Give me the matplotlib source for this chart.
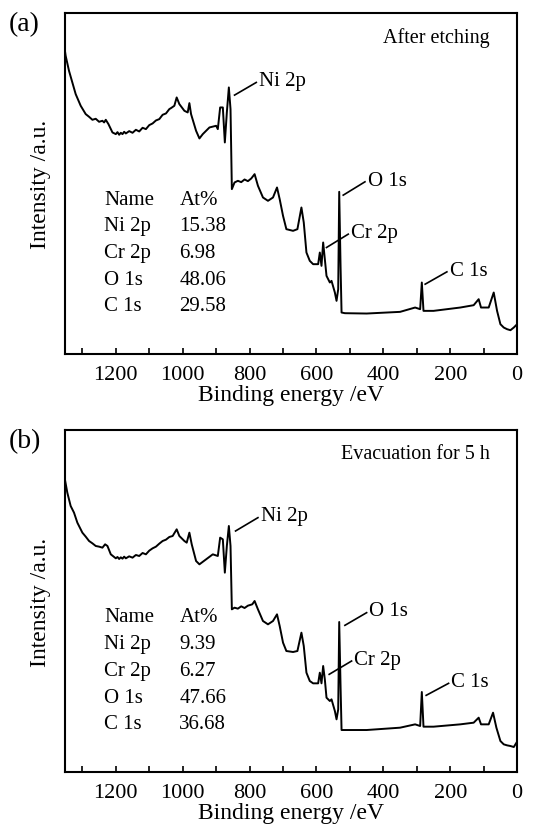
import matplotlib.pyplot as plt
import numpy as np
from matplotlib.ticker import MultipleLocator

plt.rcParams['font.family'] = ['Liberation Serif', 'DejaVu Serif']

# XPS survey spectra: binding energy (eV) vs intensity (a.u.)
be_a = [1355, 1350, 1340, 1330, 1320, 1305, 1290, 1280, 1270, 1260,
        1250, 1240, 1235, 1230, 1222, 1210, 1200, 1195, 1190, 1185,
        1180, 1175, 1170, 1160, 1150, 1140, 1130, 1120, 1110, 1100,
        1090, 1080, 1070, 1060, 1050, 1040, 1035, 1025,
        1018, 1010, 995, 985, 980, 975, 960, 950, 940, 920,
        900, 895, 888, 880, 874, 868, 862, 857, 853, 845,
        835, 825, 815, 805, 795, 785, 775, 760, 745, 730, 718, 710, 700,
        690, 670, 657, 645, 638, 630, 620, 610, 595, 590,
        585, 580, 575, 570, 560, 555, 545, 540, 535, 532,
        528, 525, 515, 450, 350, 305, 290, 285, 280, 250,
        170, 130, 115, 108, 85, 70, 60, 50, 40, 30,
        20, 10, 0]
int_a = [930, 895, 850, 815, 780, 745, 720, 712, 703, 706,
         697, 700, 695, 703, 690, 665, 660, 666, 658, 664,
         660, 667, 662, 669, 664, 673, 668, 679, 675, 687,
         692, 701, 705, 718, 722, 735, 738, 745,
         770, 750, 730, 725, 753, 720, 670, 647, 660, 680,
         685, 675, 740, 740, 635, 725, 800, 735, 495, 515,
         520, 516, 524, 519, 527, 540, 505, 470, 460, 470, 500, 465, 415,
         375, 370, 375, 440, 395, 305, 280, 270, 270, 305,
         265, 335, 285, 235, 215, 220, 185, 160, 195, 487,
         265, 125, 123, 122, 127, 140, 135, 215, 130, 130,
         140, 147, 165, 140, 140, 185, 130, 90, 80, 75,
         72, 80, 90]

be_b = [1355, 1345, 1335, 1325, 1315, 1300, 1290, 1280, 1270, 1260,
        1250, 1240, 1232, 1225, 1215, 1200, 1195, 1190, 1185, 1180,
        1175, 1170, 1160, 1150, 1140, 1130, 1120, 1110, 1100, 1090,
        1080, 1070, 1060, 1050, 1040, 1030, 1018, 1010,
        995, 988, 980, 973, 960, 950, 930, 910, 895, 888,
        880, 874, 868, 862, 857, 853, 845, 835, 825, 815, 805, 792, 785,
        775, 760, 745, 730, 718, 710, 700, 690, 670, 657,
        645, 638, 630, 620, 610, 595, 590, 585, 580, 575,
        570, 560, 555, 545, 540, 535, 532, 528, 525, 450,
        350, 305, 290, 285, 280, 250, 170, 130, 115, 108,
        85, 72, 62, 50, 40, 30, 20, 10, 2]
int_b = [893, 838, 798, 778, 748, 718, 706, 693, 686, 678,
         676, 673, 683, 678, 653, 641, 645, 639, 644, 640,
         646, 641, 647, 643, 651, 648, 657, 653, 664, 671,
         676, 685, 693, 697, 705, 708, 728, 708,
         693, 688, 718, 683, 633, 623, 638, 653, 648, 703,
         698, 598, 678, 738, 678, 488, 493, 490, 497, 492, 499, 503, 513,
         488, 453, 443, 453, 473, 438, 388, 363, 360, 363,
         418, 378, 298, 273, 266, 266, 298, 266, 318, 278,
         223, 213, 218, 183, 158, 188, 450, 258, 126, 126,
         133, 143, 138, 240, 136, 136, 143, 148, 163, 143,
         143, 178, 133, 93, 83, 80, 78, 75, 88]

# composition tables
names = ['Ni 2p', 'Cr 2p', 'O 1s', 'C 1s']
at_a = ['15.38', '6.98', '48.06', '29.58']
at_b = ['9.39', '6.27', '47.66', '36.68']

# peak labels: (text, line start, line end)
peaks_a = [('Ni 2p', (845, 777), (780, 815)),
           ('O 1s', (520, 477), (455, 517)),
           ('Cr 2p', (570, 320), (505, 360)),
           ('C 1s', (275, 210), (210, 247))]
peaks_b = [('Ni 2p', (842, 723), (775, 763)),
           ('O 1s', (515, 440), (450, 478)),
           ('Cr 2p', (562, 293), (495, 333)),
           ('C 1s', (272, 230), (205, 266))]

fig = plt.figure(figsize=(5.37, 8.28), dpi=100)
ax_a = fig.add_axes([0.121, 0.571, 0.842, 0.412])
ax_b = fig.add_axes([0.121, 0.0664, 0.842, 0.4131])


def draw_panel(ax, be, inten, at, peaks, note, tag, ytop):
    ax.plot(be, inten, color='black', lw=1.4)
    ax.set_xlim(1352, 0)
    ax.set_ylim(0, ytop)
    ax.xaxis.set_major_locator(MultipleLocator(200))
    ax.xaxis.set_minor_locator(MultipleLocator(100))
    ax.tick_params(axis='x', which='both', direction='in', length=4,
                   width=1.2, labelsize=16, pad=8)
    ax.set_yticks([])
    for s in ax.spines.values():
        s.set_linewidth(1.5)
    ax.set_xlabel('Binding energy /eV', fontsize=17, labelpad=0)
    ax.set_ylabel('Intensity /a.u.', fontsize=17, labelpad=10)

    for label, p0, p1 in peaks:
        ax.plot([p0[0], p1[0]], [p0[1], p1[1]], color='black', lw=1.2)
        ax.text(p1[0] - 8, p1[1] + 5, label, fontsize=15, va='center', ha='left')

    rows = [('Name', 'At%')] + list(zip(names, at))
    for i, (n, v) in enumerate(rows):
        y = 465 - i * 80
        ax.text(1235, y, n, fontsize=15, va='center', ha='left')
        ax.text(1010, y, v, fontsize=15, va='center', ha='left')

    ax.text(0.94, 0.93, note, transform=ax.transAxes, fontsize=14.5,
            ha='right', va='center')
    ax.text(-0.125, 0.97, tag, transform=ax.transAxes, fontsize=20,
            ha='left', va='center')


draw_panel(ax_a, be_a, int_a, at_a, peaks_a, 'After etching', '(a)', 1023)
draw_panel(ax_b, be_b, int_b, at_b, peaks_b, 'Evacuation for 5 h', '(b)', 1026)

fig.savefig('out.png', dpi=100)
